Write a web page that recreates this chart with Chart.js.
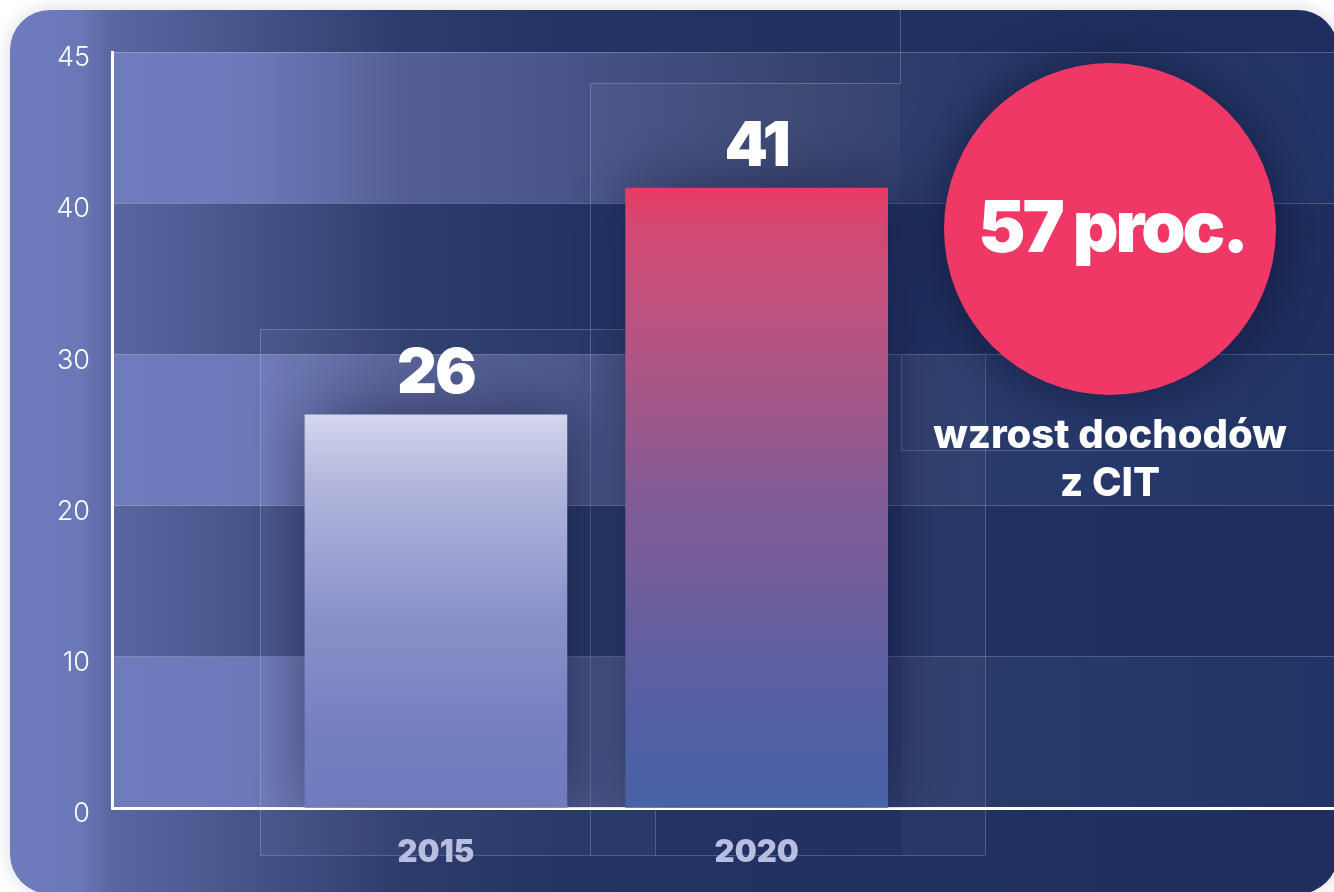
<!DOCTYPE html>
<html>
<head>
<meta charset="utf-8">
<script src="https://cdn.jsdelivr.net/npm/chart.js@4.4.1/dist/chart.umd.min.js"></script>
<style>
  html, body { margin: 0; padding: 0; background: #ffffff; }
  #wrap { width: 1334px; height: 892px; position: relative; }
</style>
</head>
<body>
<div id="wrap"><canvas id="c" width="1334" height="892"></canvas></div>
<script>
// Dochody z CIT, mld zł
const categories = ['2015', '2020'];
const values = [26, 41];
const yTickValues = [0, 10, 20, 30, 40, 50];
const yTickLabels = ['0', '10', '20', '30', '40', '45'];
const growthLabel = '57 proc.';
const growthCaption = ['wzrost dochodów', 'z CIT'];

const HEAVY = '"Inter", "Lato", sans-serif';

function roundRect(ctx, x, y, w, h, r) {
  ctx.beginPath();
  ctx.moveTo(x + r, y);
  ctx.lineTo(x + w - r, y);
  ctx.arcTo(x + w, y, x + w, y + r, r);
  ctx.lineTo(x + w, y + h - r);
  ctx.arcTo(x + w, y + h, x + w - r, y + h, r);
  ctx.lineTo(x + r, y + h);
  ctx.arcTo(x, y + h, x, y + h - r, r);
  ctx.lineTo(x, y + r);
  ctx.arcTo(x, y, x + r, y, r);
  ctx.closePath();
}

function hGrad(ctx, x0, x1, stops) {
  const g = ctx.createLinearGradient(x0, 0, x1, 0);
  stops.forEach(([p, c]) => g.addColorStop(p, c));
  return g;
}

// Card, alternating bands and thin frame lines behind the plot
const backdrop = {
  id: 'backdrop',
  beforeDraw(chart) {
    const { ctx, chartArea, scales } = chart;
    const W = chart.width, H = chart.height;
    ctx.save();
    ctx.fillStyle = '#ffffff';
    ctx.fillRect(0, 0, W, H);

    // card
    ctx.save();
    ctx.shadowColor = 'rgba(30,40,80,0.18)';
    ctx.shadowBlur = 18;
    roundRect(ctx, 10, 10, 1328, 884, 40);
    ctx.fillStyle = hGrad(ctx, 0, W, [
      [0, '#6e7bbd'], [80 / W, '#6b78b8'], [112 / W, '#5a66a0'],
      [250 / W, '#46538b'], [400 / W, '#2d3c6d'], [560 / W, '#223364'],
      [1, '#1f2e5e']
    ]);
    ctx.fill();
    ctx.restore();

    ctx.save();
    roundRect(ctx, 10, 10, 1328, 884, 40);
    ctx.clip();

    // lighter bands: 50–40, 30–20, 10–0
    const y = scales.y;
    const L = chartArea.left, R = chartArea.right;
    const bandFill = hGrad(ctx, L, R, [
      [0, '#6e7bbd'], [(250 - L) / (R - L), '#6c79b9'], [(330 - L) / (R - L), '#606ca6'],
      [(400 - L) / (R - L), '#545f95'], [(560 - L) / (R - L), '#48548a'],
      [(800 - L) / (R - L), '#37436f'], [(900 - L) / (R - L), '#2e3d6c'],
      [(1000 - L) / (R - L), '#283a6a'], [1, '#223467']
    ]);
    ctx.fillStyle = bandFill;
    for (let v = 0; v < 50; v += 20) {
      const top = y.getPixelForValue(v + 10);
      const bot = y.getPixelForValue(v);
      ctx.fillRect(L, top, R - L, bot - top);
    }

    // soft translucent panels
    ctx.fillStyle = 'rgba(255,255,255,0.035)';
    ctx.fillRect(260, 329, 395, 526);
    ctx.fillRect(901, 354, 84, 501);
    ctx.fillRect(590, 83, 310, 119);

    // thin frame lines
    ctx.strokeStyle = 'rgba(255,255,255,0.2)';
    ctx.lineWidth = 1;
    ctx.beginPath();
    ctx.moveTo(260.5, 855.5); ctx.lineTo(260.5, 329.5); ctx.lineTo(655.5, 329.5); ctx.lineTo(655.5, 855.5);
    ctx.moveTo(260.5, 855.5); ctx.lineTo(985.5, 855.5); ctx.lineTo(985.5, 354.5);
    ctx.moveTo(590.5, 855.5); ctx.lineTo(590.5, 83.5); ctx.lineTo(900.5, 83.5); ctx.lineTo(900.5, 10);
    ctx.moveTo(901.5, 354.5); ctx.lineTo(901.5, 450.5); ctx.lineTo(1334, 450.5);
    ctx.stroke();

    ctx.restore();
    ctx.restore();
  }
};

// Glow behind the bars and the value above each bar
const barDecor = {
  id: 'barDecor',
  beforeDatasetsDraw(chart) {
    const { ctx } = chart;
    ctx.save();
    ctx.shadowColor = 'rgba(18,22,58,0.6)';
    ctx.shadowBlur = 60;
    ctx.shadowOffsetX = 8;
  },
  afterDatasetsDraw(chart) {
    const { ctx } = chart;
    ctx.restore();
    ctx.save();
    ctx.fillStyle = '#ffffff';
    ctx.font = '900 62px ' + HEAVY;
    ctx.textAlign = 'center';
    ctx.textBaseline = 'alphabetic';
    try { ctx.letterSpacing = '-2px'; } catch (e) {}
    chart.getDatasetMeta(0).data.forEach((bar, i) => {
      ctx.fillText(String(values[i]), bar.x, bar.y - 22);
    });
    ctx.restore();
  }
};

// Growth badge on the right
const badge = {
  id: 'badge',
  afterDraw(chart) {
    const { ctx } = chart;
    const cx = 1110, cy = 229, r = 166;
    ctx.save();
    ctx.shadowColor = 'rgba(12,16,45,0.65)';
    ctx.shadowBlur = 50;
    ctx.beginPath();
    ctx.arc(cx, cy, r, 0, Math.PI * 2);
    ctx.fillStyle = '#ef3866';
    ctx.fill();
    ctx.restore();

    ctx.save();
    ctx.fillStyle = '#ffffff';
    ctx.textAlign = 'center';
    ctx.textBaseline = 'alphabetic';
    try { ctx.letterSpacing = '-3px'; } catch (e) {}
    ctx.font = '900 71px ' + HEAVY;
    ctx.fillText(growthLabel, cx + 2, 252);
    try { ctx.letterSpacing = '0px'; } catch (e) {}
    ctx.font = '800 40px ' + HEAVY;
    ctx.fillText(growthCaption[0], cx, 448);
    ctx.fillText(growthCaption[1], cx, 496);
    ctx.restore();
  }
};

function barGradient(ctx, top, bottom, stops) {
  const g = ctx.createLinearGradient(0, top, 0, bottom);
  stops.forEach(([p, c]) => g.addColorStop(p, c));
  return g;
}

const barStops = [
  [[0, '#d3d6ec'], [0.18, '#b2b6dd'], [0.5, '#8c93cb'], [0.8, '#7680c0'], [1, '#6e7bbd']],
  [[0, '#ea3a64'], [0.06, '#d44872'], [0.2, '#bd5280'], [0.36, '#a0588a'], [0.48, '#855a94'],
   [0.67, '#6b5e9c'], [0.83, '#5660a4'], [1, '#4862a8']]
];

const chart = new Chart(document.getElementById('c'), {
  type: 'bar',
  data: {
    datasets: [{
      data: values.map((v, i) => ({ x: i + 1, y: v })),
      barThickness: 262,
      borderWidth: 0,
      backgroundColor(context) {
        const c = context.chart;
        if (!c.chartArea) return '#8c93cb';
        const ys = c.scales.y;
        const i = context.dataIndex;
        return barGradient(c.ctx, ys.getPixelForValue(values[i]), ys.getPixelForValue(0), barStops[i]);
      }
    }]
  },
  options: {
    responsive: false,
    devicePixelRatio: 1,
    animation: false,
    layout: { padding: { top: 52, left: 0, right: 0, bottom: 0 } },
    plugins: { legend: { display: false }, tooltip: { enabled: false } },
    scales: {
      x: {
        type: 'linear',
        offset: false,
        bounds: 'ticks',
        min: -0.01,
        max: 3.8,
        afterBuildTicks(scale) { scale.ticks = categories.map((c, i) => ({ value: i + 1 })); },
        afterFit(scale) { scale.height = 84; },
        grid: { display: false, drawTicks: false },
        border: { display: true, color: '#ffffff', width: 3 },
        ticks: {
          autoSkip: false,
          maxRotation: 0,
          padding: 26,
          color: '#b9bde0',
          font: { family: HEAVY, size: 31, weight: '900' },
          callback: (v) => categories[v - 1] ?? ''
        }
      },
      y: {
        min: 0,
        max: 50,
        afterBuildTicks(scale) { scale.ticks = yTickValues.map(v => ({ value: v })); },
        afterFit(scale) { scale.width = 112; },
        grid: { color: 'rgba(255,255,255,0.22)', lineWidth: 1, drawTicks: false },
        border: { display: true, color: '#ffffff', width: 3 },
        ticks: {
          padding: 22,
          labelOffset: 6,
          color: '#ffffff',
          font: { family: '"Inter", sans-serif', size: 27, weight: '300' },
          callback: (v, i) => yTickLabels[i]
        }
      }
    }
  },
  plugins: [backdrop, barDecor, badge]
});
</script>
</body>
</html>
